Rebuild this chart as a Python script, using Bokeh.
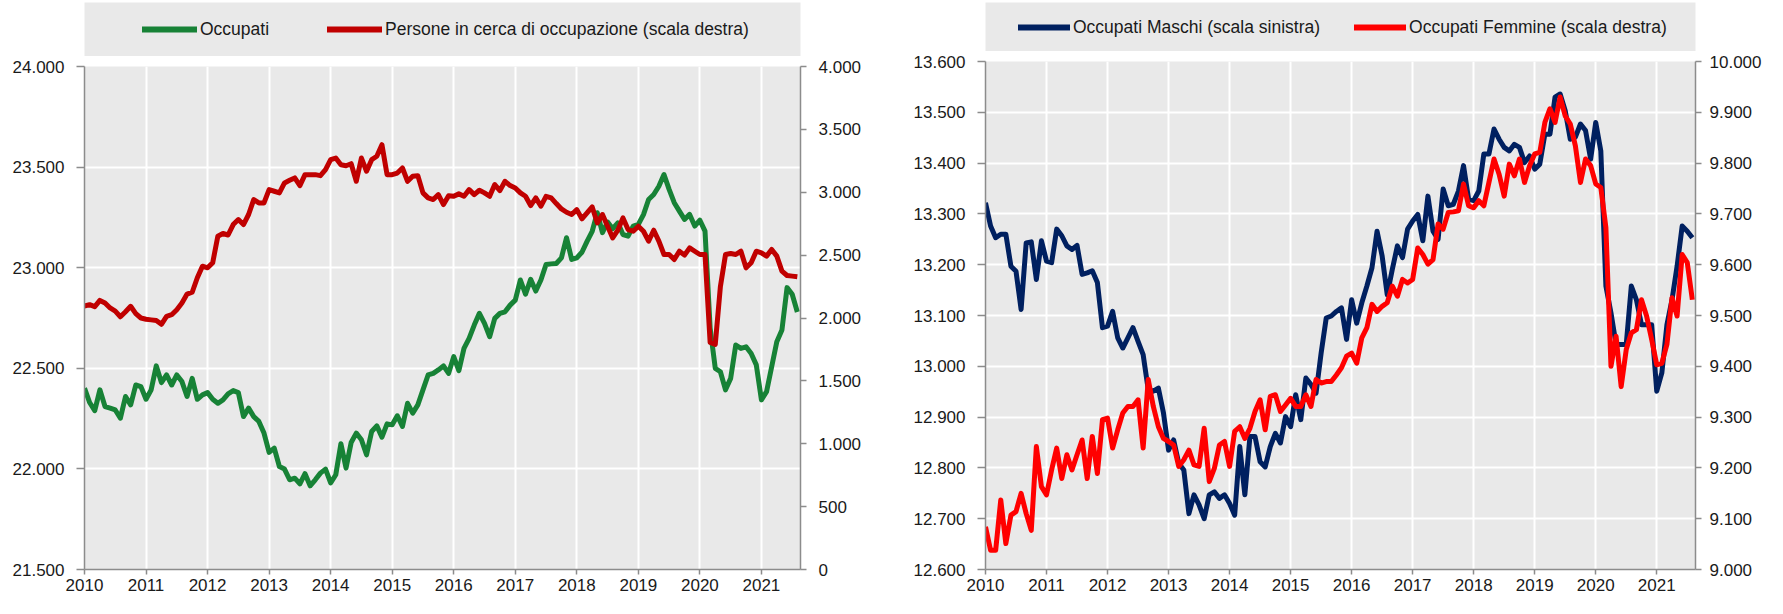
import pandas as pd
from bokeh.plotting import figure
from bokeh.models import Range1d, LinearAxis, FixedTicker, Legend, LegendItem
from bokeh.layouts import row, column
from bokeh.embed import file_html
from bokeh.resources import INLINE

FONT = "Liberation Sans"

# ---------------- data ----------------
months = pd.date_range("2010-01-01", periods=140, freq="MS")
years = [2010, 2011, 2012, 2013, 2014, 2015, 2016, 2017, 2018, 2019, 2020, 2021]

occupati = [22401, 22330, 22290, 22393, 22310, 22302, 22293, 22252, 22360, 22318,
            22417, 22409, 22346, 22393, 22512, 22429, 22467, 22417, 22467, 22434,
            22360, 22450, 22346, 22368, 22379, 22346, 22326, 22343, 22373, 22389,
            22379, 22260, 22302, 22260, 22236, 22178, 22082, 22103, 22012, 21999,
            21946, 21954, 21926, 21976, 21916, 21946, 21979, 21999, 21930, 21971,
            22125, 22004, 22131, 22178, 22145, 22070, 22186, 22214, 22158, 22224,
            22219, 22264, 22211, 22326, 22277, 22318, 22393, 22467, 22475, 22492,
            22512, 22475, 22558, 22488, 22599, 22649, 22715, 22773, 22723, 22657,
            22748, 22773, 22781, 22814, 22839, 22939, 22868, 22942, 22884, 22939,
            23016, 23019, 23021, 23049, 23149, 23041, 23049, 23077, 23131, 23181,
            23273, 23174, 23227, 23194, 23223, 23165, 23157, 23207, 23215, 23264,
            23339, 23364, 23405, 23463, 23389, 23323, 23281, 23240, 23265, 23207,
            23236, 23182, 22700, 22500, 22483, 22393, 22450, 22616, 22599, 22607,
            22574, 22517, 22343, 22384, 22508, 22632, 22690, 22901, 22868, 22780]

in_cerca = [2095, 2106, 2090, 2140, 2120, 2080, 2055, 2010, 2050, 2093,
            2035, 2000, 1990, 1985, 1980, 1950, 2013, 2026, 2066, 2119,
            2190, 2205, 2320, 2412, 2399, 2440, 2650, 2672, 2660, 2743,
            2783, 2743, 2823, 2942, 2915, 2915, 3021, 3008, 2995, 3074,
            3095, 3114, 3053, 3140, 3140, 3140, 3132, 3180, 3259, 3272,
            3219, 3211, 3227, 3087, 3272, 3167, 3259, 3286, 3378, 3140,
            3140, 3153, 3193, 3087, 3127, 3132, 2995, 2955, 2942, 2981,
            2902, 2973, 2968, 2987, 2968, 3021, 2981, 3016, 2995, 2968,
            3061, 3013, 3087, 3053, 3034, 2995, 2968, 2894, 2955, 2889,
            2968, 2955, 2910, 2867, 2841, 2823, 2862, 2788, 2836, 2883,
            2756, 2823, 2730, 2637, 2698, 2796, 2703, 2690, 2730, 2690,
            2611, 2698, 2611, 2505, 2505, 2465, 2531, 2500, 2558, 2531,
            2505, 2505, 1805, 1790, 2250, 2505, 2513, 2505, 2531, 2399,
            2440, 2531, 2518, 2492, 2545, 2492, 2373, 2338, 2333, 2328]

maschi = [13322, 13276, 13253, 13260, 13260, 13197, 13187, 13112, 13243, 13245,
          13171, 13247, 13207, 13204, 13270, 13257, 13237, 13230, 13238, 13181,
          13184, 13188, 13165, 13076, 13079, 13108, 13056, 13036, 13056, 13076,
          13049, 13023, 12954, 12951, 12957, 12908, 12835, 12855, 12809, 12796,
          12710, 12747, 12727, 12700, 12747, 12753, 12740, 12747, 12730, 12707,
          12842, 12747, 12862, 12862, 12812, 12802, 12842, 12868, 12849, 12901,
          12881, 12944, 12895, 12977, 12964, 12947, 13026, 13095, 13099, 13108,
          13115, 13053, 13131, 13085, 13125, 13158, 13194, 13266, 13217, 13141,
          13191, 13237, 13214, 13270, 13286, 13299, 13247, 13335, 13266, 13250,
          13349, 13316, 13319, 13345, 13395, 13329, 13326, 13345, 13418, 13418,
          13467, 13447, 13431, 13424, 13437, 13431, 13401, 13414, 13388, 13398,
          13457, 13457, 13530, 13536, 13503, 13447, 13451, 13477, 13464, 13408,
          13480, 13424, 13158, 13105, 13043, 13043, 13043, 13158, 13131, 13082,
          13082, 13082, 12951, 12987, 13082, 13131, 13197, 13276, 13266, 13253]

femmine = [9084, 9038, 9038, 9137, 9051, 9107, 9114, 9150, 9110, 9077,
           9242, 9163, 9147, 9196, 9239, 9179, 9226, 9196, 9226, 9255,
           9179, 9262, 9189, 9295, 9298, 9239, 9275, 9308, 9321, 9321,
           9334, 9239, 9374, 9321, 9281, 9258, 9252, 9245, 9203, 9216,
           9235, 9206, 9203, 9278, 9173, 9199, 9245, 9252, 9203, 9272,
           9281, 9258, 9278, 9311, 9334, 9275, 9341, 9344, 9311, 9324,
           9337, 9321, 9321, 9344, 9321, 9374, 9367, 9370, 9370, 9383,
           9397, 9420, 9426, 9406, 9456, 9476, 9522, 9508, 9518, 9525,
           9558, 9538, 9571, 9564, 9571, 9633, 9620, 9601, 9610, 9680,
           9670, 9703, 9704, 9706, 9759, 9716, 9712, 9726, 9716, 9762,
           9808, 9778, 9735, 9798, 9775, 9808, 9762, 9795, 9818, 9821,
           9880, 9907, 9880, 9930, 9893, 9877, 9834, 9762, 9808, 9795,
           9759, 9752, 9673, 9400, 9459, 9360, 9433, 9466, 9472, 9531,
           9499, 9453, 9403, 9406, 9443, 9535, 9499, 9620, 9604, 9531]

ticks_occ = [21500, 22000, 22500, 23000, 23500, 24000]
ticks_cerca = [0, 500, 1000, 1500, 2000, 2500, 3000, 3500, 4000]
ticks_maschi = [12600, 12700, 12800, 12900, 13000, 13100, 13200, 13300, 13400, 13500, 13600]
ticks_femmine = [9000, 9100, 9200, 9300, 9400, 9500, 9600, 9700, 9800, 9900, 10000]

x = [d.year + (d.month - 1) / 12 for d in months]

# ---------------- style ----------------
BG = "#e9e9e9"
AXIS_COL = "#8c8c8c"
TXT = "#1a1a1a"
GREEN = "#178236"
DARKRED = "#c00000"
NAVY = "#002060"
RED = "#ff0000"
X_END = 2021.635
LW = 5


def fmt(v):
    return f"{v:,}".replace(",", ".")


def style_axis(ax, ticks, side):
    ax.ticker = FixedTicker(ticks=ticks)
    ax.major_label_overrides = {t: fmt(t) for t in ticks}
    ax.axis_line_color = AXIS_COL
    ax.axis_line_width = 1.5
    ax.major_tick_line_color = AXIS_COL
    ax.major_tick_line_width = 1.5
    ax.minor_tick_line_color = None
    ax.major_tick_in = 0
    ax.major_label_text_font = FONT
    ax.major_label_text_font_size = "17px"
    ax.major_label_text_color = TXT
    if side == "left":
        ax.major_tick_out = 8
        ax.major_label_standoff = 12
    else:
        ax.major_tick_out = 6
        ax.major_label_standoff = 10


def style_xaxis(ax):
    ax.ticker = FixedTicker(ticks=years)
    ax.major_label_overrides = {y: str(y) for y in years}
    ax.axis_line_color = AXIS_COL
    ax.axis_line_width = 1.5
    ax.major_tick_line_color = AXIS_COL
    ax.major_tick_line_width = 1.5
    ax.minor_tick_line_color = None
    ax.major_tick_in = 0
    ax.major_tick_out = 5
    ax.major_label_standoff = 4
    ax.major_label_text_font = FONT
    ax.major_label_text_font_size = "17px"
    ax.major_label_text_color = TXT


def main_fig(width, height, borders, yl, yr, tl, tr, right_standoff):
    l, r, t, b = borders
    p = figure(width=width, height=height, output_backend="svg", toolbar_location=None,
               x_range=Range1d(2010, X_END), y_range=Range1d(*yl),
               min_border_left=l, min_border_right=r, min_border_top=t, min_border_bottom=b)
    p.extra_y_ranges = {"right": Range1d(*yr)}
    p.background_fill_color = BG
    p.border_fill_color = "white"
    p.outline_line_color = None
    style_axis(p.yaxis[0], tl, "left")
    style_xaxis(p.xaxis[0])
    ax_r = LinearAxis(y_range_name="right")
    style_axis(ax_r, tr, "right")
    ax_r.major_label_standoff = right_standoff
    p.add_layout(ax_r, "right")
    p.xgrid.ticker = FixedTicker(ticks=years)
    p.grid.grid_line_color = "white"
    p.grid.grid_line_width = 2
    return p


def legend_fig(width, height, borders, entries, loc, spacing, glyph_w):
    # legend box drawn as a separate strip; the sample lines use the real series
    # but fall outside this strip's ranges, so only the legend glyphs are visible
    l, r, t, b = borders
    p = figure(width=width, height=height, output_backend="svg", toolbar_location=None,
               x_range=Range1d(0, 1), y_range=Range1d(0, 1),
               x_axis_location=None, y_axis_location=None,
               min_border_left=l, min_border_right=r, min_border_top=t, min_border_bottom=b)
    p.grid.visible = False
    p.background_fill_color = BG
    p.border_fill_color = "white"
    p.outline_line_color = None
    items = []
    for label, color, series in entries:
        rr = p.line(x, series, line_color=color, line_width=6, line_cap="round")
        items.append(LegendItem(label=label, renderers=[rr]))
    lg = Legend(items=items, orientation="horizontal", location=loc,
                padding=0, margin=0, spacing=spacing, glyph_width=glyph_w,
                glyph_height=24, label_height=24, label_standoff=3,
                label_text_font=FONT, label_text_font_size="17.5px",
                label_text_color=TXT, border_line_color=None,
                background_fill_alpha=0)
    p.add_layout(lg)
    return p


# ---------------- left panel ----------------
p1 = main_fig(880, 542, (79, 74, 10, 29), (21500, 24000), (0, 4000), ticks_occ, ticks_cerca, 12)
p1.line(x, occupati, line_color=GREEN, line_width=LW, line_join="round")
p1.line(x, in_cerca, line_color=DARKRED, line_width=LW, line_join="round", y_range_name="right")
l1 = legend_fig(880, 56, (84, 80, 2, 0),
                [("Occupati", GREEN, occupati),
                 ("Persone in cerca di occupazione (scala destra)", DARKRED, in_cerca)],
                (58, 15), 58, 55)

# ---------------- right panel ----------------
p2 = main_fig(887, 547, (103, 67, 10, 29), (12600, 13600), (9000, 10000), ticks_maschi, ticks_femmine, 8)
p2.line(x, maschi, line_color=NAVY, line_width=LW, line_join="round")
p2.line(x, femmine, line_color=RED, line_width=LW, line_join="round", y_range_name="right")
l2 = legend_fig(887, 51, (105, 72, 2, 0),
                [("Occupati Maschi (scala sinistra)", NAVY, maschi),
                 ("Occupati Femmine (scala destra)", RED, femmine)],
                (33, 12), 34, 52)

layout = row(column(l1, p1, spacing=0), column(l2, p2, spacing=0), spacing=0)

with open("out.html", "w") as f:
    f.write(file_html(layout, INLINE))
